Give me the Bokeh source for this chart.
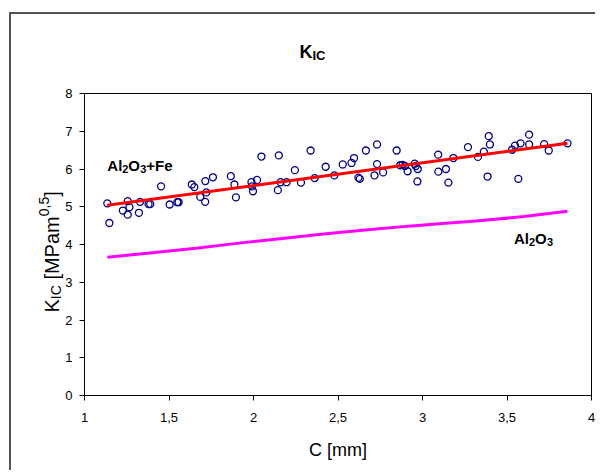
import math
from bokeh.plotting import figure
from bokeh.models import Label, FixedTicker, Range1d
from bokeh.embed import file_html
from bokeh.resources import INLINE

# ---- data ----
c_fe = [1.135, 1.147, 1.227, 1.256, 1.266, 1.256, 1.329, 1.322, 1.379, 1.389,
        1.453, 1.504, 1.549, 1.557, 1.635, 1.650, 1.715, 1.721, 1.685, 1.714,
        1.760, 1.866, 1.887, 1.896, 1.988, 1.991, 1.997, 2.021, 2.047, 2.150,
        2.160, 2.196, 2.144, 2.245, 2.281, 2.338, 2.362, 2.427, 2.478, 2.528,
        2.580, 2.595, 2.621, 2.629, 2.665, 2.731, 2.731, 2.716, 2.767, 2.847,
        2.868, 2.882, 2.896, 2.912, 2.954, 2.960, 2.972, 2.970, 3.093, 3.094,
        3.139, 3.153, 3.183, 3.269, 3.328, 3.363, 3.392, 3.399, 3.385, 3.530,
        3.547, 3.580, 3.631, 3.631, 3.567, 3.720, 3.747, 3.858]
k_fe = [5.09, 4.57, 4.90, 5.15, 4.99, 4.79, 5.13, 4.84, 5.07, 5.07,
        5.54, 5.06, 5.12, 5.12, 5.59, 5.52, 5.68, 5.38, 5.26, 5.13,
        5.78, 5.81, 5.59, 5.25, 5.65, 5.54, 5.41, 5.71, 6.33, 6.36,
        5.65, 5.65, 5.44, 5.97, 5.64, 6.49, 5.76, 6.06, 5.83, 6.12,
        6.16, 6.29, 5.77, 5.74, 6.49, 6.65, 6.13, 5.83, 5.91, 6.49,
        6.10, 6.11, 6.08, 5.94, 6.14, 6.08, 6.00, 5.67, 6.38, 5.93,
        6.00, 5.64, 6.29, 6.58, 6.32, 6.46, 6.87, 6.65, 5.80, 6.51,
        6.62, 6.68, 6.91, 6.65, 5.74, 6.66, 6.49, 6.68]
trend_c = [1.135, 3.858]
trend_k = [5.04, 6.68]
al_c = [1.135, 1.4, 1.66, 1.9, 2.17, 2.4, 2.645, 2.9, 3.1, 3.317, 3.6, 3.858]
al_k = [3.66, 3.78, 3.90, 4.03, 4.16, 4.27, 4.38, 4.48, 4.55, 4.62, 4.74, 4.88]

x_ticks = [1, 1.5, 2, 2.5, 3, 3.5, 4]
x_tick_labels = ["1", "1,5", "2", "2,5", "3", "3,5", "4"]
y_ticks = [0, 1, 2, 3, 4, 5, 6, 7, 8]

FONT = "Liberation Sans"

p = figure(width=586, height=458, output_backend="svg", toolbar_location=None,
           x_range=Range1d(1, 4), y_range=Range1d(0, 8),
           min_border_left=73, min_border_right=6, min_border_top=79,
           min_border_bottom=77)
p.styles = {"border-left": "2px solid #555555", "border-top": "2px solid #555555",
            "margin-top": "12px", "margin-left": "9px"}
p.background_fill_color = "white"
p.border_fill_color = "white"
p.outline_line_color = "black"
p.outline_line_width = 1
p.xgrid.visible = False
p.ygrid.visible = False

for ax in (p.xaxis, p.yaxis):
    ax.axis_line_color = "black"
    ax.major_tick_line_color = "black"
    ax.major_tick_in = 0
    ax.major_tick_out = 5
    ax.minor_tick_line_color = None
    ax.major_label_text_font = FONT
    ax.major_label_text_font_size = "13px"
    ax.major_label_text_color = "black"

p.xaxis.ticker = FixedTicker(ticks=x_ticks)
p.xaxis.major_label_overrides = {float(t): l for t, l in zip(x_ticks, x_tick_labels)}
p.xaxis.major_label_standoff = 12
p.xaxis.axis_label = "C [mm]"
p.xaxis.axis_label_text_font = FONT
p.xaxis.axis_label_text_font_size = "18px"
p.xaxis.axis_label_text_font_style = "normal"
p.xaxis.axis_label_text_color = "black"
p.xaxis.axis_label_standoff = 15

p.yaxis.ticker = FixedTicker(ticks=y_ticks)
p.yaxis.major_label_standoff = 7

p.line(al_c, al_k, line_color="#FF00FF", line_width=3)
p.scatter(c_fe, k_fe, marker="circle", size=7, fill_color=None,
          line_color="#000080", line_width=1.3)
p.line(trend_c, trend_k, line_color="#FF0000", line_width=3)


def lab(text, x, y, size, bold=False, units="canvas", angle=0.0, xo=0, yo=0,
        place="center"):
    p.add_layout(Label(x=x, y=y, x_units=units, y_units=units, text=text,
                       text_font=FONT, text_font_size=size,
                       text_font_style="bold" if bold else "normal",
                       text_color="black", angle=angle, x_offset=xo, y_offset=yo,
                       text_align="left", text_baseline="alphabetic"), place)


# title K_IC (canvas units; kept in side panels so it is not clipped)
lab("K", 286, 35, "18px", bold=True, place="above")
lab("IC", 299, 39, "13px", bold=True, place="above")

# y-axis title K_IC [MPam^0,5], rotated, canvas units
a = math.pi / 2
lab("K", 38, 296, "20px", angle=a, place="left")
lab("IC", 42, 282.7, "14px", angle=a, place="above")
lab("[MPam", 38, 263.1, "20px", angle=a, place="left")
lab("0,5", 30, 199.8, "14px", angle=a, place="above")
lab("]", 38, 180.3, "20px", angle=a, place="below")

# series labels inside the plot (data-anchored)
fe_x, fe_y = 1.135, 6.10
lab("Al", fe_x, fe_y, "15px", bold=True, units="data")
lab("2", fe_x, fe_y, "11px", bold=True, units="data", xo=15, yo=-4)
lab("O", fe_x, fe_y, "15px", bold=True, units="data", xo=21)
lab("3", fe_x, fe_y, "11px", bold=True, units="data", xo=33, yo=-4)
lab("+Fe", fe_x, fe_y, "15px", bold=True, units="data", xo=39)

al_x, al_y = 3.541, 4.17
lab("Al", al_x, al_y, "15px", bold=True, units="data")
lab("2", al_x, al_y, "11px", bold=True, units="data", xo=15, yo=-4)
lab("O", al_x, al_y, "15px", bold=True, units="data", xo=21)
lab("3", al_x, al_y, "11px", bold=True, units="data", xo=33, yo=-4)

open("out.html", "w").write(file_html(p, INLINE))
